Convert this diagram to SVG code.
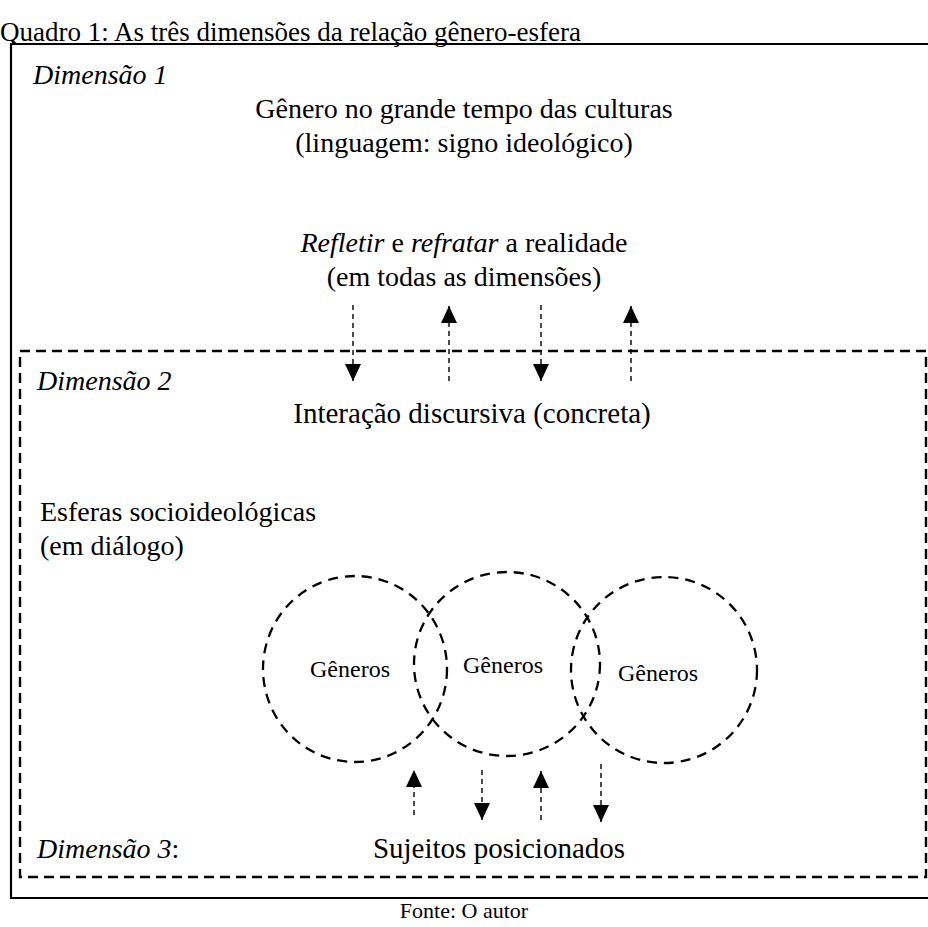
<svg xmlns="http://www.w3.org/2000/svg" width="928" height="927" viewBox="0 0 928 927">
<defs>
<style>
text{font-family:"Liberation Serif","Times New Roman",serif;fill:#000;}
.t{font-size:28px;}
.t29{font-size:29px;}
.ttl{font-size:27px;}
.g{font-size:24px;}
.src{font-size:22px;}
.it{font-style:italic;}
.c{text-anchor:middle;}
.box{fill:none;stroke:#000;stroke-width:2.2;}
.dbox{fill:none;stroke:#000;stroke-width:2.4;stroke-dasharray:10 6;}
.circ{fill:none;stroke:#000;stroke-width:2.3;stroke-dasharray:10 7;}
.arr{stroke:#000;stroke-width:1.4;stroke-dasharray:5 4;fill:none;marker-end:url(#ah);}
</style>
<marker id="ah" viewBox="0 0 17 16" refX="17" refY="8" markerWidth="17" markerHeight="16" markerUnits="userSpaceOnUse" orient="auto">
<path d="M0,0 L17,8 L0,16 Z" fill="#000"/>
</marker>
</defs>
<rect width="928" height="927" fill="#fff"/>
<text class="ttl" x="0" y="41">Quadro 1: As três dimensões da relação gênero-esfera</text>
<g id="dimensao1">
<path class="box" d="M932,44 H11 V898 H932"/>
<text class="t it" x="33" y="84">Dimensão 1</text>
<text class="t c" x="464" y="118">Gênero no grande tempo das culturas</text>
<text class="t c" x="464" y="152">(linguagem: signo ideológico)</text>
<text class="t c" x="464" y="252"><tspan class="it">Refletir</tspan> e <tspan class="it">refratar</tspan> a realidade</text>
<text class="t c" x="464" y="286">(em todas as dimensões)</text>
</g>
<g id="dimensao2">
<rect class="dbox" x="20" y="351" width="906" height="526"/>
<text class="t it" x="37" y="390">Dimensão 2</text>
<text class="t29 c" x="472" y="423">Interação discursiva (concreta)</text>
<text class="t" x="40" y="521">Esferas socioideológicas</text>
<text class="t" x="40" y="555">(em diálogo)</text>
</g>
<g id="genero1">
<ellipse class="circ" cx="355" cy="669" rx="92" ry="93"/>
<text class="g c" x="350" y="677">Gêneros</text>
</g>
<g id="genero2">
<ellipse class="circ" cx="507" cy="664" rx="93" ry="92"/>
<text class="g c" x="503" y="673">Gêneros</text>
</g>
<g id="genero3">
<ellipse class="circ" cx="664" cy="670" rx="93" ry="93"/>
<text class="g c" x="658" y="681">Gêneros</text>
</g>
<g id="dimensao3">
<text class="t it" x="37" y="858">Dimensão 3<tspan font-style="normal">:</tspan></text>
<text class="t29 c" x="499" y="858">Sujeitos posicionados</text>
</g>
<g id="connectors">
<line class="arr" x1="353" y1="305" x2="353" y2="381"/>
<line class="arr" x1="449" y1="381" x2="449" y2="306"/>
<line class="arr" x1="541" y1="305" x2="541" y2="381"/>
<line class="arr" x1="631" y1="381" x2="631" y2="306"/>
<line class="arr" x1="414" y1="815" x2="414" y2="770"/>
<line class="arr" x1="482" y1="770" x2="482" y2="820"/>
<line class="arr" x1="541" y1="820" x2="541" y2="771"/>
<line class="arr" x1="601" y1="764" x2="601" y2="822"/>
</g>
<text class="src c" x="464" y="918">Fonte: O autor</text>
</svg>
